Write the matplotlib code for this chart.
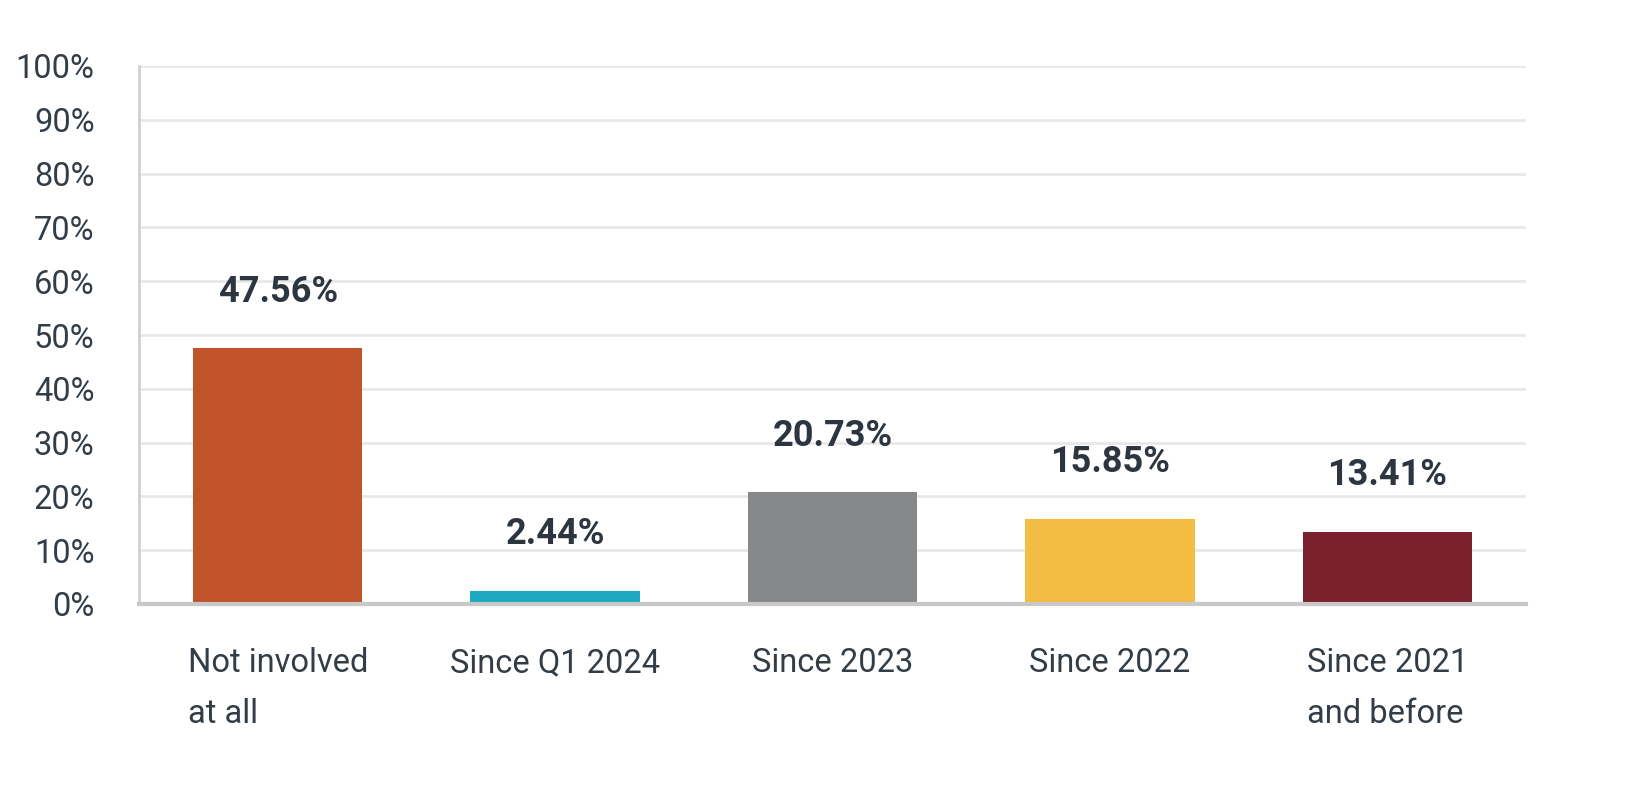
import matplotlib
matplotlib.use("Agg")
import matplotlib.pyplot as plt
from matplotlib.ticker import FuncFormatter

categories = ["Not involved\nat all", "Since Q1 2024", "Since 2023", "Since 2022", "Since 2021\nand before"]
values = [47.56, 2.44, 20.73, 15.85, 13.41]
colors = ["#C0532A", "#1EA9C2", "#878889", "#F3BC43", "#7B212E"]
yticks = [0, 10, 20, 30, 40, 50, 60, 70, 80, 90, 100]

plt.rcParams['font.family'] = ['Roboto', 'DejaVu Sans']

fig = plt.figure(figsize=(16.42, 7.88), dpi=100)
ax = fig.add_axes([139/1642, 1-604/788, (1526-139)/1642, (604-66)/788])

x = list(range(len(categories)))
ax.bar(x, values, width=0.61, color=colors, zorder=3)

for xi, v in zip(x, values):
    ax.text(xi, v + 10.5, f"{v:.2f}%", ha='center', va='center', fontsize=26,
            fontweight='bold', color='#2d3640', zorder=4)

ax.set_xlim(-0.5, len(categories) - 0.5)
ax.set_ylim(0, 100)
ax.set_yticks(yticks)
ax.yaxis.set_major_formatter(FuncFormatter(lambda v, p: f"{int(v)}%"))
ax.set_xticks(x)
ax.set_xticklabels(categories, multialignment='left', linespacing=1.75)

ax.tick_params(axis='y', length=0, pad=32, labelsize=23.5, labelcolor='#333d47')
ax.tick_params(axis='x', length=0, pad=31, labelsize=23.5, labelcolor='#333d47')
for lbl in ax.get_xticklabels():
    lbl.set_verticalalignment('top')

ax.grid(axis='y', color='#e8e8e8', linewidth=2, zorder=0)
ax.grid(axis='x', visible=False)
for s in ['top', 'right']:
    ax.spines[s].set_visible(False)
ax.spines['left'].set_color('#d0d0d0')
ax.spines['left'].set_linewidth(2)
ax.spines['bottom'].set_color('#c8c8c8')
ax.spines['bottom'].set_linewidth(3)
ax.spines['bottom'].set_zorder(5)

fig.savefig("out.png", dpi=100, facecolor='white')
